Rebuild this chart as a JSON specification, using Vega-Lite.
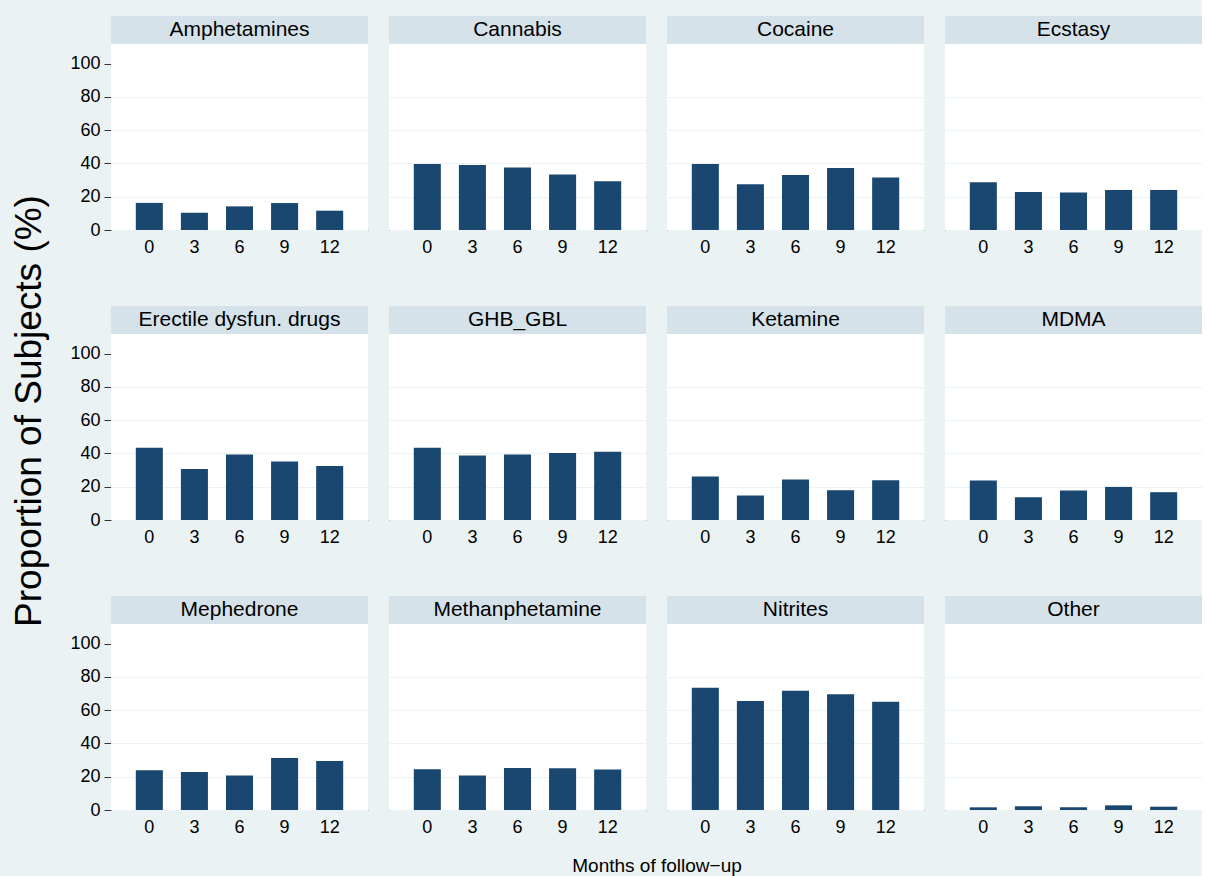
{
  "$schema": "https://vega.github.io/schema/vega-lite/v6.json",
  "background": "#EAF2F3",
  "padding": {"left": 10, "top": 16, "right": 0, "bottom": 0},
  "title": {"text": "Proportion of Subjects (%)", "orient": "left", "anchor": "middle", "fontSize": 37, "fontWeight": "normal", "color": "black", "offset": 21, "dx": 35},
  "config": {
    "font": "Liberation Sans",
    "view": {"stroke": null, "fill": "white"},
    "axis": {"labelFontSize": 18, "labelColor": "black", "domainColor": "#333333", "tickColor": "#333333", "titleColor": "black"}
  },
  "data": {"values": [
    {"drug": "Amphetamines", "month": 0, "pct": 16.3}, {"drug": "Amphetamines", "month": 3, "pct": 10.4}, {"drug": "Amphetamines", "month": 6, "pct": 14.2}, {"drug": "Amphetamines", "month": 9, "pct": 16.2}, {"drug": "Amphetamines", "month": 12, "pct": 11.6},
    {"drug": "Cannabis", "month": 0, "pct": 39.6}, {"drug": "Cannabis", "month": 3, "pct": 39.0}, {"drug": "Cannabis", "month": 6, "pct": 37.6}, {"drug": "Cannabis", "month": 9, "pct": 33.4}, {"drug": "Cannabis", "month": 12, "pct": 29.3},
    {"drug": "Cocaine", "month": 0, "pct": 39.6}, {"drug": "Cocaine", "month": 3, "pct": 27.5}, {"drug": "Cocaine", "month": 6, "pct": 33.0}, {"drug": "Cocaine", "month": 9, "pct": 37.2}, {"drug": "Cocaine", "month": 12, "pct": 31.6},
    {"drug": "Ecstasy", "month": 0, "pct": 28.7}, {"drug": "Ecstasy", "month": 3, "pct": 22.9}, {"drug": "Ecstasy", "month": 6, "pct": 22.5}, {"drug": "Ecstasy", "month": 9, "pct": 24.1}, {"drug": "Ecstasy", "month": 12, "pct": 24.1},
    {"drug": "Erectile dysfun. drugs", "month": 0, "pct": 43.4}, {"drug": "Erectile dysfun. drugs", "month": 3, "pct": 30.7}, {"drug": "Erectile dysfun. drugs", "month": 6, "pct": 39.4}, {"drug": "Erectile dysfun. drugs", "month": 9, "pct": 35.2}, {"drug": "Erectile dysfun. drugs", "month": 12, "pct": 32.5},
    {"drug": "GHB_GBL", "month": 0, "pct": 43.4}, {"drug": "GHB_GBL", "month": 3, "pct": 38.8}, {"drug": "GHB_GBL", "month": 6, "pct": 39.4}, {"drug": "GHB_GBL", "month": 9, "pct": 40.2}, {"drug": "GHB_GBL", "month": 12, "pct": 41.0},
    {"drug": "Ketamine", "month": 0, "pct": 26.1}, {"drug": "Ketamine", "month": 3, "pct": 14.7}, {"drug": "Ketamine", "month": 6, "pct": 24.3}, {"drug": "Ketamine", "month": 9, "pct": 17.9}, {"drug": "Ketamine", "month": 12, "pct": 23.9},
    {"drug": "MDMA", "month": 0, "pct": 23.7}, {"drug": "MDMA", "month": 3, "pct": 13.7}, {"drug": "MDMA", "month": 6, "pct": 17.7}, {"drug": "MDMA", "month": 9, "pct": 19.9}, {"drug": "MDMA", "month": 12, "pct": 16.7},
    {"drug": "Mephedrone", "month": 0, "pct": 23.9}, {"drug": "Mephedrone", "month": 3, "pct": 22.9}, {"drug": "Mephedrone", "month": 6, "pct": 20.7}, {"drug": "Mephedrone", "month": 9, "pct": 31.3}, {"drug": "Mephedrone", "month": 12, "pct": 29.5},
    {"drug": "Methanphetamine", "month": 0, "pct": 24.5}, {"drug": "Methanphetamine", "month": 3, "pct": 20.7}, {"drug": "Methanphetamine", "month": 6, "pct": 25.3}, {"drug": "Methanphetamine", "month": 9, "pct": 25.1}, {"drug": "Methanphetamine", "month": 12, "pct": 24.3},
    {"drug": "Nitrites", "month": 0, "pct": 73.5}, {"drug": "Nitrites", "month": 3, "pct": 65.5}, {"drug": "Nitrites", "month": 6, "pct": 71.7}, {"drug": "Nitrites", "month": 9, "pct": 69.5}, {"drug": "Nitrites", "month": 12, "pct": 65.1},
    {"drug": "Other", "month": 0, "pct": 1.6}, {"drug": "Other", "month": 3, "pct": 2.2}, {"drug": "Other", "month": 6, "pct": 1.6}, {"drug": "Other", "month": 9, "pct": 2.8}, {"drug": "Other", "month": 12, "pct": 2.0}
  ]},
  "vconcat": [
    {
      "transform": [{"filter": {"field": "drug", "oneOf": ["Amphetamines", "Cannabis", "Cocaine", "Ecstasy"]}}],
      "facet": {"column": {"field": "drug", "type": "nominal", "header": {"labels": false, "title": null}}},
      "spacing": 21,
      "spec": {
        "width": 257, "height": 214,
        "layer": [
          {"mark": {"type": "bar", "color": "#1A476F"},
           "encoding": {
             "x": {"field": "month", "type": "ordinal", "sort": "ascending", "scale": {"paddingInner": 0.4, "paddingOuter": 0.55}, "axis": {"title": null, "labelAngle": 0, "ticks": false, "labelPadding": 8, "grid": false}},
             "y": {"field": "pct", "type": "quantitative", "scale": {"domain": [0, 128.6], "nice": false}, "axis": {"title": null, "values": [0, 20, 40, 60, 80, 100], "tickSize": 7, "labelPadding": 4, "grid": true, "gridColor": {"condition": {"test": "datum.value === 100", "value": "white"}, "value": "#EAF2F3"}}}
           }},
          {"transform": [{"filter": "datum.month == 6"}],
           "layer": [
             {"mark": {"type": "rect", "color": "#D6E2E9"},
              "encoding": {"x": {"value": 0}, "x2": {"value": "width"}, "y": {"datum": 111.8}, "y2": {"datum": 128.6}}},
             {"mark": {"type": "text", "fontSize": 21, "color": "black", "baseline": "middle"},
              "encoding": {"x": {"field": "month", "type": "ordinal"}, "y": {"datum": 120.2}, "text": {"field": "drug"}}}
           ]}
        ]
      }
    },
    {
      "transform": [{"filter": {"field": "drug", "oneOf": ["Erectile dysfun. drugs", "GHB_GBL", "Ketamine", "MDMA"]}}],
      "facet": {"column": {"field": "drug", "type": "nominal", "header": {"labels": false, "title": null}}},
      "spacing": 21,
      "spec": {
        "width": 257, "height": 214,
        "layer": [
          {"mark": {"type": "bar", "color": "#1A476F"},
           "encoding": {
             "x": {"field": "month", "type": "ordinal", "sort": "ascending", "scale": {"paddingInner": 0.4, "paddingOuter": 0.55}, "axis": {"title": null, "labelAngle": 0, "ticks": false, "labelPadding": 8, "grid": false}},
             "y": {"field": "pct", "type": "quantitative", "scale": {"domain": [0, 128.6], "nice": false}, "axis": {"title": null, "values": [0, 20, 40, 60, 80, 100], "tickSize": 7, "labelPadding": 4, "grid": true, "gridColor": {"condition": {"test": "datum.value === 100", "value": "white"}, "value": "#EAF2F3"}}}
           }},
          {"transform": [{"filter": "datum.month == 6"}],
           "layer": [
             {"mark": {"type": "rect", "color": "#D6E2E9"},
              "encoding": {"x": {"value": 0}, "x2": {"value": "width"}, "y": {"datum": 111.8}, "y2": {"datum": 128.6}}},
             {"mark": {"type": "text", "fontSize": 21, "color": "black", "baseline": "middle"},
              "encoding": {"x": {"field": "month", "type": "ordinal"}, "y": {"datum": 120.2}, "text": {"field": "drug"}}}
           ]}
        ]
      }
    },
    {
      "transform": [{"filter": {"field": "drug", "oneOf": ["Mephedrone", "Methanphetamine", "Nitrites", "Other"]}}],
      "facet": {"column": {"field": "drug", "type": "nominal", "header": {"labels": false, "title": "Months of follow\u2212up", "titleOrient": "bottom", "titleFontSize": 19, "titleFontWeight": "normal", "titleColor": "black", "titlePadding": 11}}},
      "spacing": 21,
      "spec": {
        "width": 257, "height": 214,
        "layer": [
          {"mark": {"type": "bar", "color": "#1A476F"},
           "encoding": {
             "x": {"field": "month", "type": "ordinal", "sort": "ascending", "scale": {"paddingInner": 0.4, "paddingOuter": 0.55}, "axis": {"title": null, "labelAngle": 0, "ticks": false, "labelPadding": 8, "grid": false}},
             "y": {"field": "pct", "type": "quantitative", "scale": {"domain": [0, 128.6], "nice": false}, "axis": {"title": null, "values": [0, 20, 40, 60, 80, 100], "tickSize": 7, "labelPadding": 4, "grid": true, "gridColor": {"condition": {"test": "datum.value === 100", "value": "white"}, "value": "#EAF2F3"}}}
           }},
          {"transform": [{"filter": "datum.month == 6"}],
           "layer": [
             {"mark": {"type": "rect", "color": "#D6E2E9"},
              "encoding": {"x": {"value": 0}, "x2": {"value": "width"}, "y": {"datum": 111.8}, "y2": {"datum": 128.6}}},
             {"mark": {"type": "text", "fontSize": 21, "color": "black", "baseline": "middle"},
              "encoding": {"x": {"field": "month", "type": "ordinal"}, "y": {"datum": 120.2}, "text": {"field": "drug"}}}
           ]}
        ]
      }
    }
  ],
  "spacing": 50
}
